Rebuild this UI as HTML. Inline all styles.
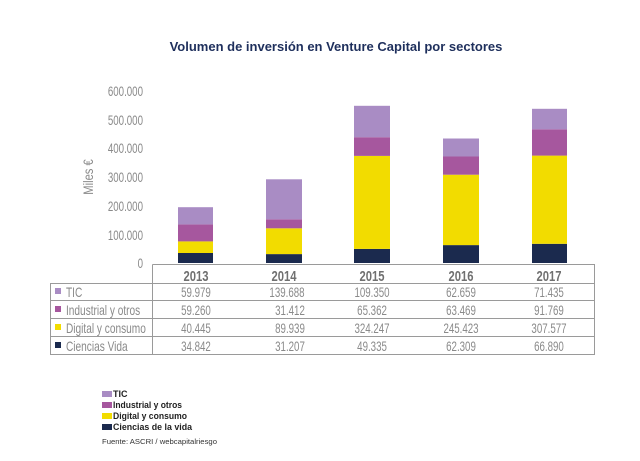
<!DOCTYPE html>
<html><head><meta charset="utf-8"><style>
body{margin:0;background:#fff;}
svg{display:block;}
.n{font-family:"Liberation Sans",sans-serif;fill:#8a8a8a;}
</style></head><body>
<svg width="640" height="461" viewBox="0 0 640 461" xmlns="http://www.w3.org/2000/svg">
<text x="336" y="51" text-anchor="middle" font-family="Liberation Sans,sans-serif" font-weight="bold" font-size="13" fill="#1e2f5c">Volumen de inversión en Venture Capital por sectores</text>
<g class="n" font-size="13.5" text-anchor="end" transform="scale(0.72 1)">
<text x="198.6" y="96">600.000</text>
<text x="198.6" y="125">500.000</text>
<text x="198.6" y="153">400.000</text>
<text x="198.6" y="182">300.000</text>
<text x="198.6" y="211">200.000</text>
<text x="198.6" y="240">100.000</text>
<text x="198.6" y="268">0</text>
</g>
<text class="n" font-size="14" transform="translate(93,177) rotate(-90) scale(0.8 1)" text-anchor="middle">Miles €</text>
<g>
<rect x="178" y="253" width="35" height="10" fill="#1b2a4e"/>
<rect x="178" y="241.4" width="35" height="11.6" fill="#f2dc00"/>
<rect x="178" y="224.4" width="35" height="17" fill="#a6579e"/>
<rect x="178" y="207.2" width="35" height="17.2" fill="#a98cc4"/>
<rect x="266" y="254.1" width="36" height="8.9" fill="#1b2a4e"/>
<rect x="266" y="228.3" width="36" height="25.8" fill="#f2dc00"/>
<rect x="266" y="219.3" width="36" height="9" fill="#a6579e"/>
<rect x="266" y="179.3" width="36" height="40" fill="#a98cc4"/>
<rect x="354" y="248.9" width="36" height="14.1" fill="#1b2a4e"/>
<rect x="354" y="155.9" width="36" height="93" fill="#f2dc00"/>
<rect x="354" y="137.2" width="36" height="18.7" fill="#a6579e"/>
<rect x="354" y="105.8" width="36" height="31.4" fill="#a98cc4"/>
<rect x="443" y="245.1" width="36" height="17.9" fill="#1b2a4e"/>
<rect x="443" y="174.7" width="36" height="70.4" fill="#f2dc00"/>
<rect x="443" y="156.5" width="36" height="18.2" fill="#a6579e"/>
<rect x="443" y="138.5" width="36" height="18" fill="#a98cc4"/>
<rect x="532" y="243.8" width="35" height="19.2" fill="#1b2a4e"/>
<rect x="532" y="155.6" width="35" height="88.2" fill="#f2dc00"/>
<rect x="532" y="129.3" width="35" height="26.3" fill="#a6579e"/>
<rect x="532" y="108.8" width="35" height="20.5" fill="#a98cc4"/>
</g>
<g stroke="#9a9a9a" stroke-width="1" fill="none">
<path d="M152.5 264.5H594.5V354.5H50.5V283.5H594.5"/>
<path d="M152.5 264.5V354.5"/>
<path d="M50.5 300.5H594.5M50.5 318.5H594.5M50.5 336.5H594.5"/>
</g>
<g class="n" font-size="15" font-weight="bold" text-anchor="middle" style="fill:#707070" transform="scale(0.75 1)">
<text x="261.3" y="281">2013</text><text x="378.7" y="281">2014</text><text x="496" y="281">2015</text><text x="614.7" y="281">2016</text><text x="732" y="281">2017</text>
</g>
<g class="n" font-size="13.5" text-anchor="middle" transform="scale(0.72 1)">
<text x="272.2" y="297">59.979</text><text x="398.6" y="297">139.688</text><text x="516.7" y="297">109.350</text><text x="640.3" y="297">62.659</text><text x="762.5" y="297">71.435</text>
<text x="272.2" y="315">59.260</text><text x="402.8" y="315">31.412</text><text x="516.7" y="315">65.362</text><text x="640.3" y="315">63.469</text><text x="762.5" y="315">91.769</text>
<text x="272.2" y="333">40.445</text><text x="402.8" y="333">89.939</text><text x="516.7" y="333">324.247</text><text x="640.3" y="333">245.423</text><text x="762.5" y="333">307.577</text>
<text x="272.2" y="351">34.842</text><text x="402.8" y="351">31.207</text><text x="516.7" y="351">49.335</text><text x="640.3" y="351">62.309</text><text x="762.5" y="351">66.890</text>
</g>
<rect x="55" y="288" width="6" height="6" fill="#a98cc4"/>
<rect x="55" y="306" width="6" height="6" fill="#a6579e"/>
<rect x="55" y="324" width="6" height="6" fill="#f2dc00"/>
<rect x="55" y="342" width="6" height="6" fill="#1b2a4e"/>
<g class="n" font-size="13.5" transform="scale(0.75 1)">
<text x="88" y="297">TIC</text>
<text x="88" y="315">Industrial y otros</text>
<text x="88" y="333">Digital y consumo</text>
<text x="88" y="351">Ciencias Vida</text>
</g>
<g font-family="Liberation Sans,sans-serif" font-weight="bold" font-size="9" fill="#222">
<rect x="102" y="391" width="10" height="6" fill="#a98cc4"/><text x="113" y="397">TIC</text>
<rect x="102" y="402" width="10" height="6" fill="#a6579e"/><text x="113" y="408" textLength="69" lengthAdjust="spacingAndGlyphs">Industrial y otros</text>
<rect x="102" y="413" width="10" height="6" fill="#f2dc00"/><text x="113" y="419" textLength="74" lengthAdjust="spacingAndGlyphs">Digital y consumo</text>
<rect x="102" y="424" width="10" height="6" fill="#1b2a4e"/><text x="113" y="430" textLength="79" lengthAdjust="spacingAndGlyphs">Ciencias de la vida</text>
</g>
<text x="102" y="444" font-family="Liberation Sans,sans-serif" font-size="7.5" fill="#333" textLength="115" lengthAdjust="spacingAndGlyphs">Fuente: ASCRI / webcapitalriesgo</text>
</svg>
</body></html>
